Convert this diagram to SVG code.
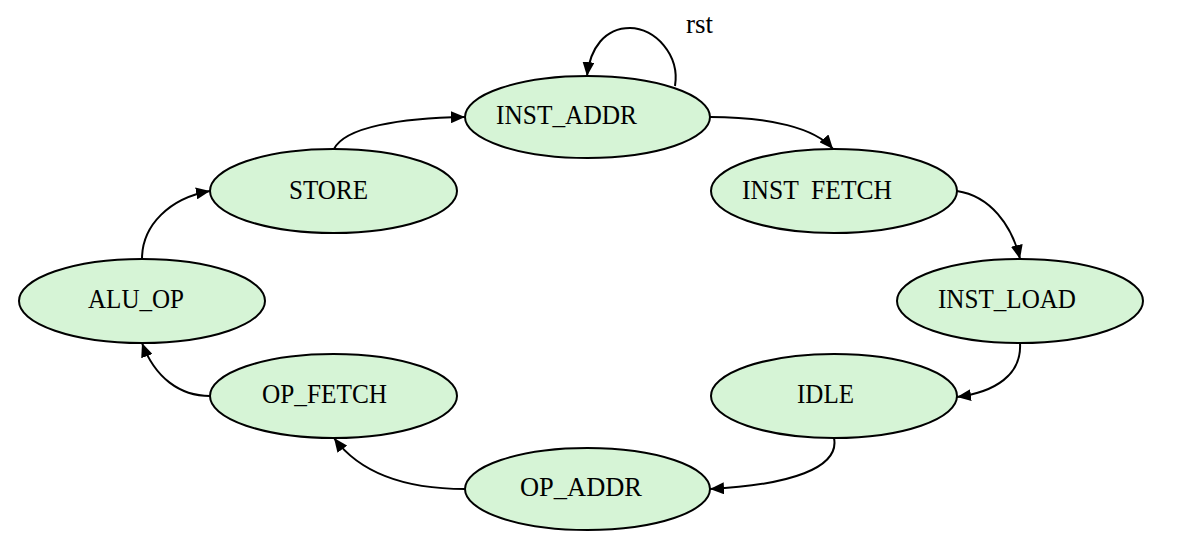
<svg xmlns="http://www.w3.org/2000/svg" width="1202" height="551" viewBox="0 0 1202 551">
<style>
.n ellipse{fill:#d6f4d6;stroke:#000;stroke-width:2}
.n text,.lbl{font-family:"Liberation Serif",serif;font-size:27px;fill:#000}
.e path{fill:none;stroke:#000;stroke-width:2;marker-end:url(#ah)}
</style>
<defs>
<marker id="ah" viewBox="0 0 14 12" refX="14" refY="6" markerWidth="14" markerHeight="12" markerUnits="userSpaceOnUse" orient="auto">
<path d="M0,0 L14,6 L0,12 z" fill="#000"/>
</marker>
</defs>
<rect width="1202" height="551" fill="#fff"/>
<g id="edges" class="e">
<path d="M675,86 C680,55 655,28 630,28 C605,28 590,48 587,76"/>
<path d="M710,117 C770,117 815,128 833,149"/>
<path d="M957,191 C990,196 1012,225 1020,259"/>
<path d="M1020,343 C1022,375 995,392 957,397"/>
<path d="M834,438 C840,468 790,485 710,489"/>
<path d="M465,489 C420,489 365,480 334,438"/>
<path d="M210,396 C180,396 155,378 142,343"/>
<path d="M142,259 C142,225 170,198 210,191"/>
<path d="M334,149 C345,127 400,118 465,117"/>
<text class="lbl" x="686" y="33">rst</text>
</g>
<g id="INST_ADDR" class="n"><ellipse cx="587.5" cy="117" rx="122.5" ry="41"/><text x="496" y="124" textLength="141" lengthAdjust="spacingAndGlyphs">INST_ADDR</text></g>
<g id="INST_FETCH" class="n"><ellipse cx="834" cy="191" rx="123" ry="42"/><text x="742" y="199" textLength="150" lengthAdjust="spacingAndGlyphs" xml:space="preserve">INST  FETCH</text></g>
<g id="INST_LOAD" class="n"><ellipse cx="1020" cy="301" rx="123" ry="42"/><text x="938" y="308" textLength="138" lengthAdjust="spacingAndGlyphs">INST_LOAD</text></g>
<g id="IDLE" class="n"><ellipse cx="834" cy="396" rx="123" ry="42"/><text x="797" y="403" textLength="57" lengthAdjust="spacingAndGlyphs">IDLE</text></g>
<g id="OP_ADDR" class="n"><ellipse cx="587.5" cy="489" rx="122.5" ry="41"/><text x="520" y="496" textLength="122" lengthAdjust="spacingAndGlyphs">OP_ADDR</text></g>
<g id="OP_FETCH" class="n"><ellipse cx="333.5" cy="396" rx="123.5" ry="42"/><text x="262" y="403" textLength="125" lengthAdjust="spacingAndGlyphs">OP_FETCH</text></g>
<g id="ALU_OP" class="n"><ellipse cx="142" cy="301" rx="123" ry="42"/><text x="88" y="308" textLength="96" lengthAdjust="spacingAndGlyphs">ALU_OP</text></g>
<g id="STORE" class="n"><ellipse cx="333.5" cy="191" rx="123.5" ry="42"/><text x="289" y="199" textLength="79" lengthAdjust="spacingAndGlyphs">STORE</text></g>
</svg>
